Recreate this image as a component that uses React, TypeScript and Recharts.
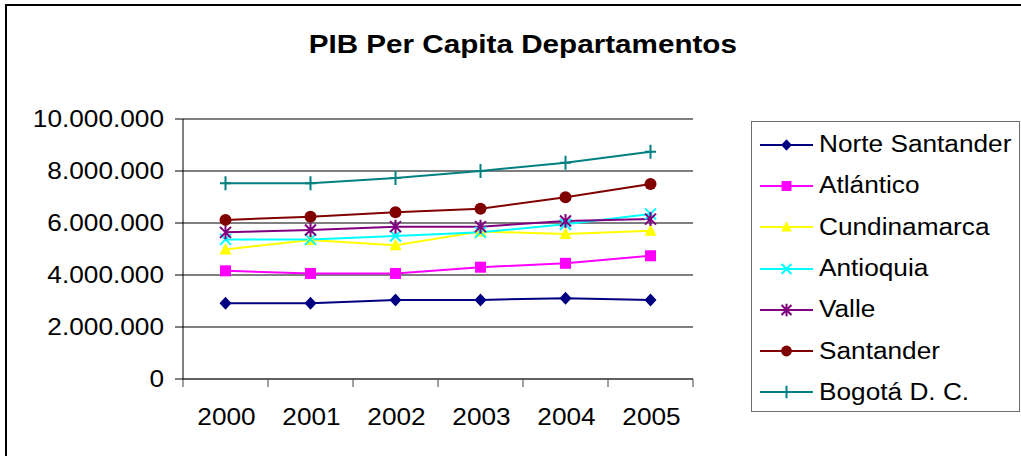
import React from "react";
import { LineChart, Line, XAxis, YAxis, CartesianGrid, Legend } from "recharts";

const years = ["2000", "2001", "2002", "2003", "2004", "2005"];
const yTicks = [0, 2000000, 4000000, 6000000, 8000000, 10000000];
const boundaryTicks = [0, 1, 2, 3, 4, 5, 6];

const norteSantander = [2910000, 2910000, 3040000, 3040000, 3110000, 3040000];
const atlantico = [4160000, 4060000, 4060000, 4300000, 4450000, 4740000];
const cundinamarca = [4980000, 5350000, 5140000, 5670000, 5580000, 5700000];
const antioquia = [5370000, 5370000, 5500000, 5640000, 5950000, 6350000];
const valle = [5640000, 5730000, 5860000, 5860000, 6080000, 6150000];
const santander = [6120000, 6240000, 6410000, 6550000, 6990000, 7500000];
const bogota = [7530000, 7530000, 7730000, 8000000, 8320000, 8740000];

type Shape = "diamond" | "square" | "triangle" | "x" | "star" | "circle" | "plus";

const series: { key: string; name: string; values: number[]; color: string; shape: Shape }[] = [
  { key: "ns", name: "Norte Santander", values: norteSantander, color: "#000080", shape: "diamond" },
  { key: "at", name: "Atlántico", values: atlantico, color: "#FF00FF", shape: "square" },
  { key: "cu", name: "Cundinamarca", values: cundinamarca, color: "#FFFF00", shape: "triangle" },
  { key: "an", name: "Antioquia", values: antioquia, color: "#00FFFF", shape: "x" },
  { key: "va", name: "Valle", values: valle, color: "#800080", shape: "star" },
  { key: "sa", name: "Santander", values: santander, color: "#800000", shape: "circle" },
  { key: "bo", name: "Bogotá D. C.", values: bogota, color: "#008080", shape: "plus" },
];

// one row per year; "pos" is the category index, used only by the tick-mark axis
const data = years.map((year, i) => {
  const row: Record<string, string | number> = { year, pos: i };
  series.forEach((s) => {
    row[s.key] = s.values[i];
  });
  return row;
});

const FONT = "'Liberation Sans', Arial, sans-serif";
const STRETCH = 1.14;
const fmt = (v: number) => String(v).replace(/\B(?=(\d{3})+(?!\d))/g, ".");

function Marker({ shape, cx, cy, color, s = 1 }: { shape: Shape; cx: number; cy: number; color: string; s?: number }) {
  switch (shape) {
    case "diamond":
      return <polygon points={`${cx},${cy - 6.5 * s} ${cx + 6 * s},${cy} ${cx},${cy + 6.5 * s} ${cx - 6 * s},${cy}`} fill={color} />;
    case "square":
      return <rect x={cx - 5.5 * s} y={cy - 5.5 * s} width={11 * s} height={11 * s} fill={color} />;
    case "triangle":
      return <polygon points={`${cx},${cy - 6.5 * s} ${cx + 6 * s},${cy + 5 * s} ${cx - 6 * s},${cy + 5 * s}`} fill={color} />;
    case "x":
      return (
        <path d={`M${cx - 5.5 * s},${cy - 5.5 * s}L${cx + 5.5 * s},${cy + 5.5 * s}M${cx + 5.5 * s},${cy - 5.5 * s}L${cx - 5.5 * s},${cy + 5.5 * s}`} stroke={color} strokeWidth={2} />
      );
    case "star":
      return (
        <path
          d={`M${cx - 5.5 * s},${cy - 5.5 * s}L${cx + 5.5 * s},${cy + 5.5 * s}M${cx + 5.5 * s},${cy - 5.5 * s}L${cx - 5.5 * s},${cy + 5.5 * s}M${cx},${cy - 7 * s}L${cx},${cy + 7 * s}`}
          stroke={color}
          strokeWidth={2}
        />
      );
    case "circle":
      return <circle cx={cx} cy={cy} r={6 * s} fill={color} />;
    case "plus":
      return <path d={`M${cx},${cy - 7 * s}L${cx},${cy + 7 * s}M${cx - 5.5 * s},${cy}L${cx + 5.5 * s},${cy}`} stroke={color} strokeWidth={2} />;
  }
  return null;
}

const YTick = (p: any) => (
  <text
    transform={`translate(${p.x},${p.y}) scale(${STRETCH},1)`}
    dy="0.355em"
    textAnchor="end"
    fill="#000"
    fontSize={23}
    fontFamily={FONT}
  >
    {fmt(p.payload.value)}
  </text>
);

const XTick = (p: any) => (
  <text
    transform={`translate(${p.x + 1},${p.y}) scale(${STRETCH},1)`}
    dy="0.71em"
    textAnchor="middle"
    fill="#000"
    fontSize={23}
    fontFamily={FONT}
  >
    {p.payload.value}
  </text>
);

const renderLegend = () => (
  <div style={{ border: "1px solid #6e6e6e", width: 267, height: 287, paddingTop: 2, background: "#fff", fontFamily: FONT }}>
    {series.map((s) => (
      <div key={s.key} style={{ display: "flex", alignItems: "center", height: 41.3 }}>
        <svg width={67} height={20} style={{ flex: "none" }}>
          <line x1={8} x2={61} y1={10} y2={10} stroke={s.color} strokeWidth={2} />
          <Marker shape={s.shape} cx={34.5} cy={10} color={s.color} s={0.9} />
        </svg>
        <span
          style={{
            display: "inline-block",
            fontSize: 23,
            color: "#000",
            whiteSpace: "nowrap",
            transform: `scaleX(${STRETCH})`,
            transformOrigin: "left center",
          }}
        >
          {s.name}
        </span>
      </div>
    ))}
  </div>
);

export default function App() {
  return (
    <div style={{ position: "absolute", left: 0, top: 0, width: 1021, height: 456, overflow: "hidden", background: "#fff" }}>
      <div style={{ position: "absolute", left: 5, top: 4, width: 1100, height: 600, border: "2px solid #000" }} />
      <div
        style={{
          position: "absolute",
          left: 0,
          top: 31,
          width: 1045,
          textAlign: "center",
          fontFamily: FONT,
          fontWeight: "bold",
          fontSize: 26,
          lineHeight: "26px",
          color: "#000",
        }}
      >
        <span style={{ display: "inline-block", transform: `scaleX(${STRETCH})` }}>PIB Per Capita Departamentos</span>
      </div>
      <div style={{ position: "absolute", left: 0, top: 0 }}>
        <LineChart width={1021} height={456} data={data} margin={{ top: 119, right: 328, bottom: 0, left: 13 }}>
          <CartesianGrid xAxisId="cat" vertical={false} stroke="#000" strokeWidth={1.2} />
          <XAxis
            xAxisId="bnd"
            dataKey="pos"
            type="number"
            domain={[0, 6]}
            ticks={boundaryTicks}
            allowDataOverflow
            interval={0}
            height={1}
            tickSize={8}
            stroke="#444"
            tick={() => <g />}
          />
          <XAxis
            xAxisId="cat"
            dataKey="year"
            padding={{ left: 42.5, right: 42.5 }}
            axisLine={false}
            tickLine={false}
            tickSize={0}
            tickMargin={29}
            height={76}
            interval={0}
            tick={XTick}
          />
          <YAxis
            width={170}
            domain={[0, 10000000]}
            ticks={yTicks}
            interval={0}
            tickSize={8}
            tickMargin={11}
            stroke="#000"
            tick={YTick}
          />
          <Legend layout="vertical" align="center" verticalAlign="middle" wrapperStyle={{ left: 751, top: 121, width: 269, height: 291 }} content={renderLegend} />
          {series.map((s) => (
            <Line
              key={s.key}
              xAxisId="cat"
              dataKey={s.key}
              name={s.name}
              stroke={s.color}
              strokeWidth={2}
              isAnimationActive={false}
              dot={(p: any) => <Marker key={`${s.key}-${p.index}`} shape={s.shape} cx={p.cx} cy={p.cy} color={s.color} />}
              activeDot={false}
            />
          ))}
        </LineChart>
      </div>
    </div>
  );
}
